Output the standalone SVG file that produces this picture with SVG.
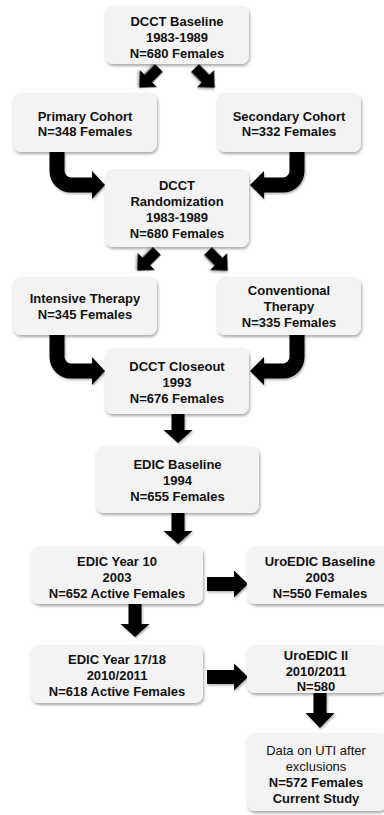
<svg xmlns="http://www.w3.org/2000/svg" xmlns:xlink="http://www.w3.org/1999/xlink" width="384" height="815" viewBox="0 0 384 815">
<style>
.box{fill:#f3f3f3;filter:url(#sh)}
text{font-family:"Liberation Sans",Arial,sans-serif;font-size:13px;font-weight:bold;fill:#111;text-anchor:middle}
.reg{font-weight:normal}
.arr{fill:#000;filter:url(#ash)}
.bend{fill:none;stroke:#000;stroke-width:15;filter:url(#ash)}
</style>
<defs>
<filter id="sh" x="-10%" y="-10%" width="125%" height="130%">
<feDropShadow dx="1" dy="2" stdDeviation="1.6" flood-color="#000" flood-opacity="0.35"/>
</filter>
<filter id="ash" x="-20%" y="-20%" width="150%" height="150%">
<feDropShadow dx="1" dy="1.5" stdDeviation="1.2" flood-color="#000" flood-opacity="0.3"/>
</filter>
<polygon id="diag" points="0,-5.5 15,-5.5 15,-12 28,0 15,12 15,5.5 0,5.5"/>
</defs>
<rect width="384" height="815" fill="#fff"/>
<g id="connectors">
<use xlink:href="#diag" class="arr" transform="translate(159,68) rotate(135)"/>
<use xlink:href="#diag" class="arr" transform="translate(195,68) rotate(45)"/>
<use xlink:href="#diag" class="arr" transform="translate(157,251) rotate(135)"/>
<use xlink:href="#diag" class="arr" transform="translate(208,251) rotate(45)"/>
<path class="bend" d="M57,152 V171 A14,14 0 0 0 71,185 H94"/>
<polygon class="arr" points="92,171 105,185 92,199"/>
<path class="bend" d="M297,152 V171 A14,14 0 0 1 283,185 H262"/>
<polygon class="arr" points="264,171 250,185 264,199"/>
<path class="bend" d="M57,335 V357 A14,14 0 0 0 71,371 H94"/>
<polygon class="arr" points="92,357 105,371 92,385"/>
<path class="bend" d="M297,335 V357 A14,14 0 0 1 283,371 H262"/>
<polygon class="arr" points="264,357 250,371 264,385"/>
<polygon class="arr" points="171.5,414 184.5,414 184.5,430 192.5,430 178,443 163.5,430 171.5,430"/>
<polygon class="arr" points="171.5,513 184.5,513 184.5,531 192.5,531 178,544 163.5,531 171.5,531"/>
<polygon class="arr" points="128.5,604 141.5,604 141.5,624 149.5,624 135,637 120.5,624 128.5,624"/>
<polygon class="arr" points="313.5,693 326.5,693 326.5,713 334.5,713 320,728 305.5,713 313.5,713"/>
<polygon class="arr" points="207,577 234,577 234,570.5 248,584 234,597.5 234,591 207,591"/>
<polygon class="arr" points="207,670 234,670 234,663.5 248,677 234,690.5 234,684 207,684"/>
</g>
<g id="n1"><rect class="box" x="105" y="6" width="144" height="58" rx="8"/>
<text x="177" y="25.5">DCCT Baseline</text><text x="177" y="41.5">1983-1989</text><text x="177" y="57.5">N=680 Females</text></g>
<g id="n2"><rect class="box" x="13" y="93" width="144" height="59" rx="8"/>
<text x="85" y="120.5">Primary Cohort</text><text x="85" y="136">N=348 Females</text></g>
<g id="n3"><rect class="box" x="217" y="93" width="144" height="59" rx="8"/>
<text x="289" y="120.5">Secondary Cohort</text><text x="289" y="136">N=332 Females</text></g>
<g id="n4"><rect class="box" x="105" y="169" width="144" height="78" rx="8"/>
<text x="177" y="189.5">DCCT</text><text x="177" y="206">Randomization</text><text x="177" y="221.5">1983-1989</text><text x="177" y="237.5">N=680 Females</text></g>
<g id="n5"><rect class="box" x="13" y="277" width="144" height="58" rx="8"/>
<text x="85" y="302.5">Intensive Therapy</text><text x="85" y="318.5">N=345 Females</text></g>
<g id="n6"><rect class="box" x="217" y="277" width="144" height="58" rx="8"/>
<text x="289" y="294.5">Conventional</text><text x="289" y="310.5">Therapy</text><text x="289" y="326.5">N=335 Females</text></g>
<g id="n7"><rect class="box" x="105" y="348" width="144" height="66" rx="8"/>
<text x="177" y="370.5">DCCT Closeout</text><text x="177" y="386.5">1993</text><text x="177" y="402.5">N=676 Females</text></g>
<g id="n8"><rect class="box" x="96" y="446" width="163" height="67" rx="8"/>
<text x="177.5" y="468.5">EDIC Baseline</text><text x="177.5" y="484.5">1994</text><text x="177.5" y="500.5">N=655 Females</text></g>
<g id="n9"><rect class="box" x="31" y="546" width="172" height="58" rx="8"/>
<text x="117" y="565.5">EDIC Year 10</text><text x="117" y="581.5">2003</text><text x="117" y="597.5">N=652 Active Females</text></g>
<g id="n10"><rect class="box" x="247" y="546" width="146" height="58" rx="8"/>
<text x="320" y="565.5">UroEDIC Baseline</text><text x="320" y="581.5">2003</text><text x="320" y="597.5">N=550 Females</text></g>
<g id="n11"><rect class="box" x="31" y="645" width="172" height="58" rx="8"/>
<text x="117" y="663.5">EDIC Year 17/18</text><text x="117" y="679.5">2010/2011</text><text x="117" y="695.5">N=618 Active Females</text></g>
<g id="n12"><rect class="box" x="247" y="645" width="140" height="48" rx="8"/>
<text x="316" y="659.5">UroEDIC II</text><text x="316" y="675.5">2010/2011</text><text x="316" y="690.5">N=580</text></g>
<g id="n13"><rect class="box" x="247" y="733" width="140" height="78" rx="8"/>
<text class="reg" x="316" y="754.5">Data on UTI after</text><text class="reg" x="316" y="770.5">exclusions</text><text x="316" y="786.5">N=572 Females</text><text x="316" y="802.5">Current Study</text></g>
</svg>
